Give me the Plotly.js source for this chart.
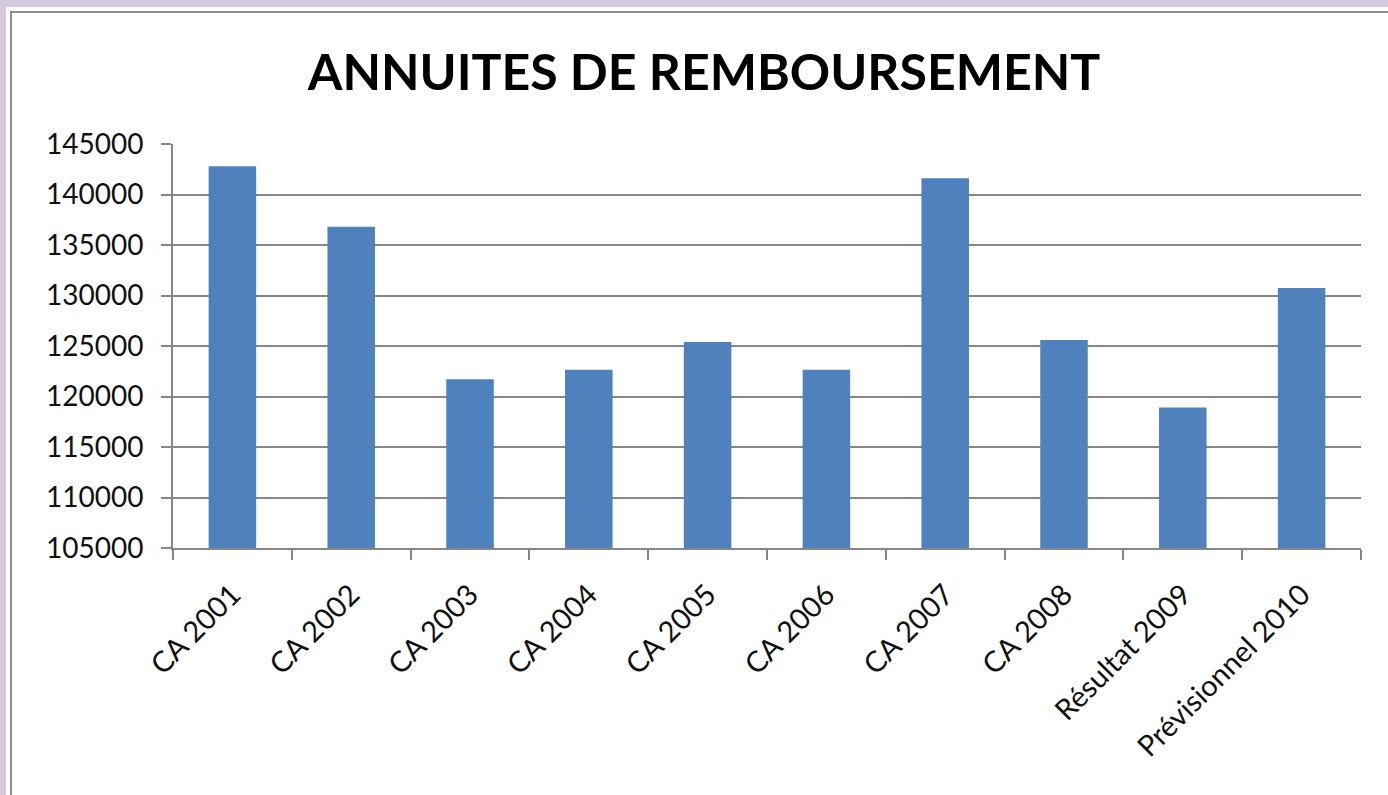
<!DOCTYPE html>
<html>
<head>
<meta charset="utf-8">
<script src="https://cdn.plot.ly/plotly-3.0.1.min.js"></script>
<style>
  html, body { margin: 0; padding: 0; width: 1388px; height: 795px; overflow: hidden; background: #D3CBDD; }
  #frame { position: absolute; left: 6px; top: 7px; width: 1382px; height: 788px; background: #ffffff; }
  #border { position: absolute; left: 10px; top: 11px; width: 1400px; height: 800px; border: 2px solid #8E8E8E; box-sizing: border-box; }
  #chart { position: absolute; left: 0; top: 0; width: 1388px; height: 795px; }
</style>
</head>
<body>
<div id="frame"></div>
<div id="border"></div>
<div id="chart"></div>
<script>
const categories = ["CA 2001", "CA 2002", "CA 2003", "CA 2004", "CA 2005", "CA 2006", "CA 2007", "CA 2008", "Résultat 2009", "Prévisionnel 2010"];
const annuites = [142800, 136800, 121700, 122650, 125400, 122650, 141600, 125600, 118900, 130750];
const yTickValues = [105000, 110000, 115000, 120000, 125000, 130000, 135000, 140000, 145000];
const yTickLabels = ["105000", "110000", "115000", "120000", "125000", "130000", "135000", "140000", "145000"];
const chartTitle = "ANNUITES DE REMBOURSEMENT";

const trace = {
  type: "bar",
  x: categories,
  y: annuites,
  marker: { color: "#4F81BD", line: { width: 0 } },
  hoverinfo: "x+y"
};

const gray = "#878787";
const layout = {
  width: 1388,
  height: 795,
  paper_bgcolor: "rgba(0,0,0,0)",
  plot_bgcolor: "rgba(0,0,0,0)",
  margin: { l: 173, r: 27, t: 143.5, b: 247.3, pad: 0 },
  showlegend: false,
  bargap: 0.6,
  title: {
    text: chartTitle,
    font: { family: "Lato", size: 50, color: "#000000", weight: "bold" },
    x: 704 / 1388,
    xanchor: "center",
    xref: "container",
    y: 1 - 72 / 795,
    yanchor: "middle",
    yref: "container"
  },
  font: { family: "Lato", color: "#000000" },
  xaxis: {
    type: "category",
    tickson: "boundaries",
    ticks: "outside",
    ticklen: 10,
    tickwidth: 2,
    tickcolor: gray,
    showline: true,
    linecolor: gray,
    linewidth: 2,
    showgrid: false,
    tickangle: -45,
    ticklabelstandoff: 16,
    tickfont: { family: "Lato", size: 29, color: "#111111" },
    fixedrange: true
  },
  yaxis: {
    range: [105000, 145000],
    tickvals: yTickValues,
    ticktext: yTickLabels,
    ticks: "outside",
    ticklen: 10,
    tickwidth: 2,
    tickcolor: gray,
    showline: true,
    linecolor: gray,
    linewidth: 2,
    showgrid: true,
    gridcolor: gray,
    gridwidth: 2,
    zeroline: false,
    ticklabelstandoff: 12,
    tickfont: { family: "Lato", size: 28, color: "#111111" },
    fixedrange: true
  }
};

Plotly.newPlot("chart", [trace], layout, { displayModeBar: false, staticPlot: true });
</script>
</body>
</html>
